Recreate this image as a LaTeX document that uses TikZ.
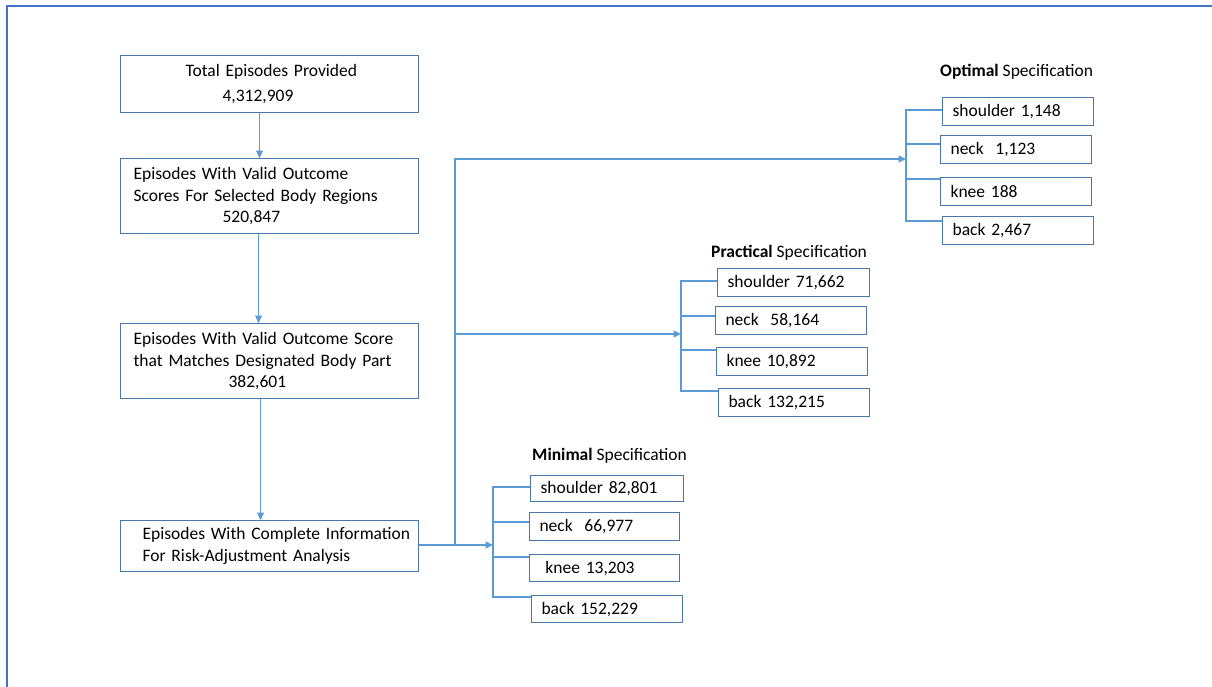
\documentclass[tikz,border=0pt]{standalone}
\usepackage{fontspec}
\setmainfont{Carlito}
\usetikzlibrary{arrows.meta}
\definecolor{framec}{HTML}{4472C4}
\definecolor{linec}{HTML}{5B9BD5}
\definecolor{boxc}{HTML}{4A76A8}
\begin{document}
\begin{tikzpicture}[x=1pt,y=-1pt,
  txt/.style={font=\fontsize{17.5}{21.3}\selectfont},
  bbox/.style={txt,draw=boxc,line width=1.1pt,text width=272pt,inner xsep=13pt,inner ysep=0pt,align=left,anchor=north west},
  sbox/.style={txt,draw=boxc,line width=1.1pt,text width=131pt,inner xsep=10pt,inner ysep=0pt,minimum height=28pt,align=left,anchor=north west},
  ttl/.style={txt,anchor=west,inner sep=0pt},
  conn/.style={draw=linec,line width=1.1pt},
  arr/.style={conn,-{Triangle[length=7.5pt,width=7pt]}}
]
\useasboundingbox (0,0) rectangle (1212,686);
\clip (0,0) rectangle (1212,686);
\draw[framec,line width=2.4pt] (7,6) rectangle (1230,700);

% main column
\node[bbox,minimum height=57pt] (b1) at (120,55) {\hspace*{52pt}Total Episodes Provided\\[4pt]\hspace*{89pt}4,312,909};
\node[bbox,minimum height=75pt] (b2) at (120,158) {Episodes With Valid Outcome\\Scores For Selected Body Regions\\\hspace*{89pt}520,847};
\node[bbox,minimum height=75pt] (b3) at (120,323) {Episodes With Valid Outcome Score\\that Matches Designated Body Part\\\hspace*{95pt}382,601};
\node[bbox,minimum height=51pt,text width=290pt,inner xsep=4pt] (b4) at (120,520) {\hspace*{18pt}Episodes With Complete Information\\\hspace*{18pt}For Risk-Adjustment Analysis};

\draw[arr] ([xshift=-10pt]b1.south) -- ([xshift=-10pt]b2.north);
\draw[arr] ([xshift=-11pt]b2.south) -- ([xshift=-11pt]b3.north);
\draw[arr] ([xshift=-9pt]b3.south) -- ([xshift=-9pt]b4.north);

% optimal
\node[ttl] (ot) at (940,72) {\textbf{Optimal} Specification};
\node[sbox] (o1) at (942,97) {shoulder 1,148};
\node[sbox] (o2) at (940,135) {neck~~1,123};
\node[sbox] (o3) at (940,177) {knee 188};
\node[sbox] (o4) at (942,216) {back 2,467};

% practical
\node[ttl] (pt) at (711,253) {\textbf{Practical} Specification};
\node[sbox,text width=132pt] (p1) at (717,268) {shoulder 71,662};
\node[sbox] (p2) at (715,306) {neck~~58,164};
\node[sbox] (p3) at (716,347) {knee 10,892};
\node[sbox] (p4) at (718,388) {back 132,215};

% minimal
\node[ttl] (mt) at (532,456) {\textbf{Minimal} Specification};
\node[sbox,text width=133pt,minimum height=26pt] (m1) at (530,475) {shoulder 82,801};
\node[sbox,text width=130pt] (m2) at (529,512) {neck~~66,977};
\node[sbox,text width=130pt,minimum height=27pt] (m3) at (529,554) {~knee 13,203};
\node[sbox,text width=131pt,minimum height=27pt] (m4) at (531,595) {back 152,229};

% connectors
\coordinate (split) at (455,545);
\coordinate (minb) at (493,545);
\coordinate (pracb) at (681,334);
\coordinate (optb) at (906,159);
\draw[arr] (b4.east |- split) -- (minb);
\draw[arr] (split) |- (pracb);
\draw[arr] (split) |- (optb);

% brackets
\draw[conn] (o1.west |- 906,110) -- (906,110) -- (906,221) -- (o4.west |- 906,221);
\draw[conn] (906,144) -- (o2.west |- 906,144);
\draw[conn] (906,179) -- (o3.west |- 906,179);

\draw[conn] (p1.west |- 681,281) -- (681,281) -- (681,391) -- (p4.west |- 681,391);
\draw[conn] (681,316) -- (p2.west |- 681,316);
\draw[conn] (681,350) -- (p3.west |- 681,350);

\draw[conn] (m1.west |- 493,487) -- (493,487) -- (493,597) -- (m4.west |- 493,597);
\draw[conn] (493,522) -- (m2.west |- 493,522);
\draw[conn] (493,557) -- (m3.west |- 493,557);
\end{tikzpicture}
\end{document}
